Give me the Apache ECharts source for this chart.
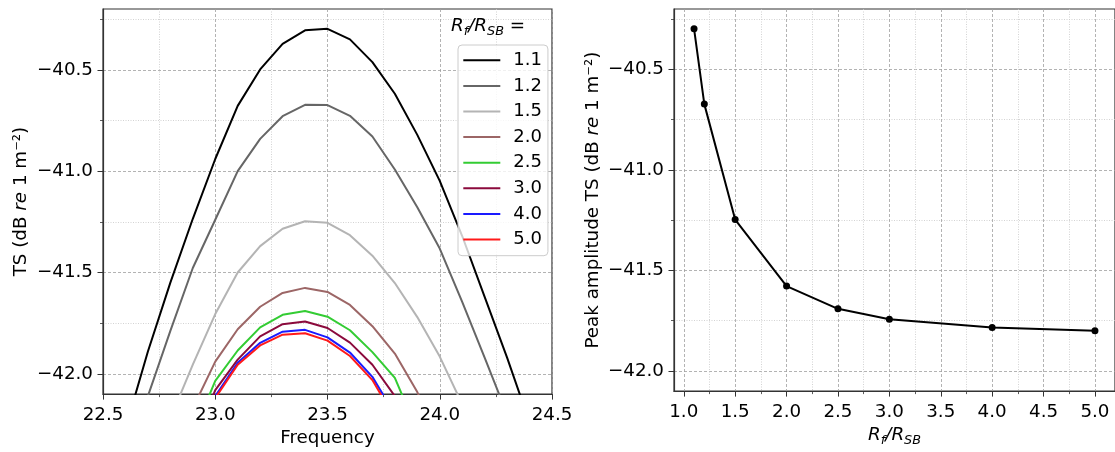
<!DOCTYPE html>
<html><head><meta charset="utf-8">
<script src="https://cdn.jsdelivr.net/npm/echarts@6/dist/echarts.min.js"></script>
<style>html,body{margin:0;padding:0;background:#fff}#c{width:1115px;height:452px}</style>
</head><body><div id="c"></div>
<script>
// ---------- data ----------
const frequencies = [22.5, 22.6, 22.7, 22.8, 22.9, 23.0, 23.1, 23.2, 23.3, 23.4, 23.5, 23.6, 23.7, 23.8, 23.9, 24.0, 24.1, 24.2, 24.3, 24.4, 24.5];
const ratioNames = ['1.1', '1.2', '1.5', '2.0', '2.5', '3.0', '4.0', '5.0'];
const ts_1_1 = [null, -42.27, -41.89, -41.55, -41.235, -40.94, -40.678, -40.498, -40.372, -40.305, -40.298, -40.35, -40.462, -40.618, -40.821, -41.048, -41.32, -41.62, -41.92, -42.24, null];
const ts_1_2 = [null, -42.47, -42.11, -41.788, -41.478, -41.24, -41.0, -40.841, -40.729, -40.673, -40.674, -40.727, -40.829, -40.992, -41.178, -41.382, -41.645, -41.92, -42.2, null, null];
const ts_1_5 = [null, null, -42.5, -42.22, -41.955, -41.705, -41.5, -41.37, -41.284, -41.247, -41.255, -41.316, -41.417, -41.552, -41.72, -41.915, -42.15, -42.4, null, null, null];
const ts_2_0 = [null, null, null, -42.45, -42.17, -41.94, -41.78, -41.669, -41.601, -41.576, -41.596, -41.66, -41.765, -41.9, -42.09, -42.33, null, null, null, null, null];
const ts_2_5 = [null, null, null, null, -42.3, -42.035, -41.885, -41.771, -41.709, -41.69, -41.718, -41.785, -41.893, -42.02, -42.28, null, null, null, null, null, null];
const ts_3_0 = [null, null, null, null, -42.36, -42.08, -41.93, -41.815, -41.755, -41.742, -41.774, -41.846, -41.955, -42.11, -42.4, null, null, null, null, null, null];
const ts_4_0 = [null, null, null, null, -42.4, -42.11, -41.945, -41.847, -41.792, -41.783, -41.82, -41.895, -42.015, -42.2, null, null, null, null, null, null, null];
const ts_5_0 = [null, null, null, null, -42.42, -42.12, -41.955, -41.86, -41.807, -41.80, -41.836, -41.912, -42.031, -42.22, null, null, null, null, null, null, null];
const tsSeries = [ts_1_1, ts_1_2, ts_1_5, ts_2_0, ts_2_5, ts_3_0, ts_4_0, ts_5_0];
const lineColors = ['#000000', '#666666', '#b4b4b4', '#9c6666', '#33cc33', '#8b0a3c', '#1a1aff', '#ff1a1a'];

const ratios = [1.1, 1.2, 1.5, 2.0, 2.5, 3.0, 4.0, 5.0];
const peakTS = [-40.298, -40.673, -41.247, -41.578, -41.691, -41.743, -41.784, -41.800];

const freqTicks = [22.5, 23.0, 23.5, 24.0, 24.5];
const freqMinorTicks = [22.75, 23.25, 23.75, 24.25];
const tsTicks = [-42.0, -41.5, -41.0, -40.5];
const tsMinorTicks = [-41.75, -41.25, -40.75, -40.25];
const ratioTicks = [1.0, 1.5, 2.0, 2.5, 3.0, 3.5, 4.0, 4.5, 5.0];
const ratioMinorTicks = [1.25, 1.75, 2.25, 2.75, 3.25, 3.75, 4.25, 4.75];

// ---------- styling ----------
const FONT = 'DejaVu Sans';
const FS = 18.3;
const fmt = v => v.toFixed(1).replace('-', '\u2212');
const rich = {
  a: {fontFamily: FONT, fontSize: FS, color: '#000'},
  i: {fontFamily: FONT, fontSize: FS, color: '#000', fontStyle: 'italic', lineHeight: 24},
  s: {fontFamily: FONT, fontSize: 12.8, color: '#000', fontStyle: 'italic', lineHeight: 24, verticalAlign: 'bottom'},
  n: {fontFamily: FONT, fontSize: FS, color: '#000', lineHeight: 24}
};

function majorAxis(grid, min, max, ticks, position, extra) {
  return Object.assign({
    type: 'value', gridIndex: grid, min: min, max: max, position: position,
    axisLine: {show: true, lineStyle: {color: '#333', width: 1.2}},
    axisTick: {show: true, customValues: ticks, length: 5.5, lineStyle: {color: '#333', width: 1}},
    axisLabel: {show: true, customValues: ticks, formatter: fmt, fontFamily: FONT, fontSize: FS, color: '#000',
                margin: position === 'bottom' ? 12 : 10},
    splitLine: {show: true, lineStyle: {color: '#a0a0a0', width: 0.8, type: [3, 2]}},
    nameTextStyle: {fontFamily: FONT, fontSize: FS, color: '#000', rich: rich}
  }, extra || {});
}
function minorAxis(grid, min, max, ticks, position) {
  return {
    type: 'value', gridIndex: grid, min: min, max: max, position: position,
    axisLine: {show: false},
    axisTick: {show: true, customValues: ticks, length: 3, lineStyle: {color: '#333', width: 0.8}},
    axisLabel: {show: false, customValues: ticks},
    splitLine: {show: true, lineStyle: {color: '#c8c8c8', width: 0.8, type: [1, 1.5]}}
  };
}

const series = tsSeries.map((arr, k) => ({
  name: ratioNames[k], type: 'line', xAxisIndex: 0, yAxisIndex: 0,
  data: frequencies.map((f, j) => [f, arr[j]]),
  symbol: 'none', connectNulls: false, clip: true,
  lineStyle: {color: lineColors[k], width: 2},
  itemStyle: {color: lineColors[k]},
  emphasis: {disabled: true}, z: 2 + k * 0.01
}));
series.push({
  name: 'peak', type: 'line', xAxisIndex: 2, yAxisIndex: 2,
  data: ratios.map((r, j) => [r, peakTS[j]]),
  symbol: 'circle', symbolSize: 7, showSymbol: true,
  lineStyle: {color: '#000', width: 2}, itemStyle: {color: '#000'},
  emphasis: {disabled: true}
});

const option = {
  animation: false,
  backgroundColor: '#fff',
  textStyle: {fontFamily: FONT},
  title: {
    left: 451, top: 14, padding: 0,
    text: '{i|R}{s|f}{i|/R}{s|SB}{n| =}',
    textStyle: {fontFamily: FONT, fontSize: FS, color: '#000', fontWeight: 'normal', rich: rich}
  },
  legend: {
    data: ratioNames, orient: 'vertical', left: 458, top: 45,
    icon: 'rect', itemWidth: 37, itemHeight: 2, itemGap: 5.6,
    padding: [5.3, 6, 6.2, 5.3],
    backgroundColor: 'rgba(255,255,255,0.8)', borderColor: '#cccccc', borderWidth: 1, borderRadius: 4,
    textStyle: {fontFamily: FONT, fontSize: 18, color: '#000', lineHeight: 20, padding: [0, 0, 0, 8]},
    selectedMode: false
  },
  grid: [
    {left: 103, top: 9, width: 449, height: 390, show: true, borderColor: '#333', borderWidth: 1.2, backgroundColor: 'transparent'},
    {left: 674, top: 9, width: 449, height: 390, show: true, borderColor: '#333', borderWidth: 1.2, backgroundColor: 'transparent'}
  ],
  xAxis: [
    majorAxis(0, 22.5, 24.5, freqTicks, 'bottom', {name: 'Frequency', nameLocation: 'middle', nameGap: 33}),
    minorAxis(0, 22.5, 24.5, freqMinorTicks, 'bottom'),
    majorAxis(1, 0.905, 5.195, ratioTicks, 'bottom', {name: '{i|R}{s|f}{i|/R}{s|SB}', nameLocation: 'middle', nameGap: 31}),
    minorAxis(1, 0.905, 5.195, ratioMinorTicks, 'bottom')
  ],
  yAxis: [
    majorAxis(0, -42.1, -40.2, tsTicks, 'left', {name: '{a|TS (dB }{i|re}{a| 1 m\u207B\u00B2)}', nameLocation: 'middle', nameRotate: 90, nameGap: 70}),
    minorAxis(0, -42.1, -40.2, tsMinorTicks, 'left'),
    majorAxis(1, -42.1, -40.2, tsTicks, 'left', {name: '{a|Peak amplitude TS (dB }{i|re}{a| 1 m\u207B\u00B2)}', nameLocation: 'middle', nameRotate: 90, nameGap: 69}),
    minorAxis(1, -42.1, -40.2, tsMinorTicks, 'left')
  ],
  series: series
};
const chart = echarts.init(document.getElementById('c'), null, {renderer: 'canvas'});
chart.setOption(option);
</script></body></html>
